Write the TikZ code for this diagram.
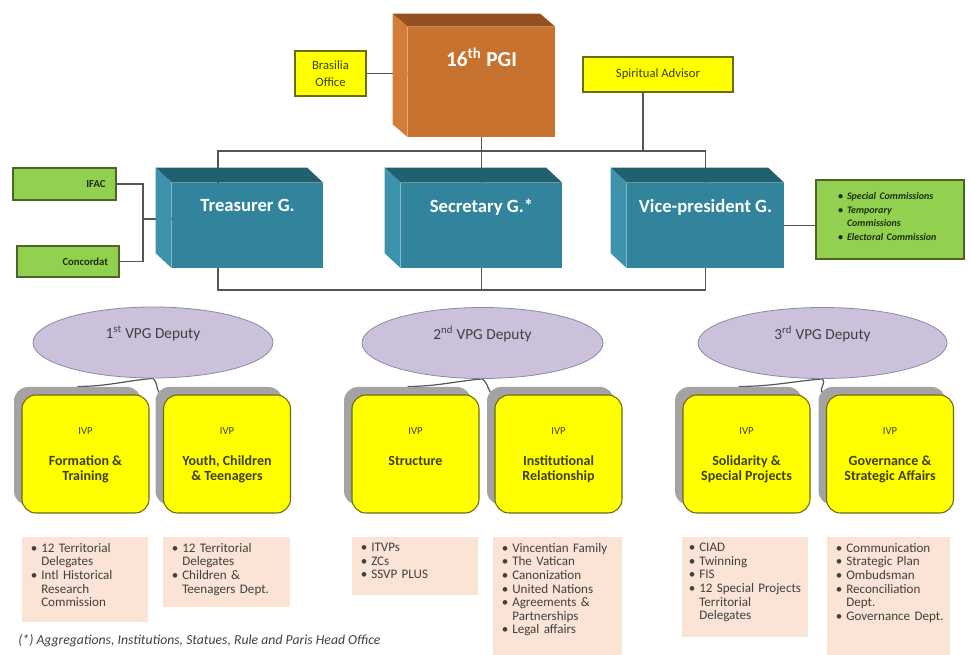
\documentclass[tikz,border=0pt]{standalone}
\usepackage{fontspec}
\setmainfont{Carlito}
\usepackage{enumitem}
\usetikzlibrary{shapes.geometric,shadows,backgrounds}

\newlength\px
\setlength\px{0.75pt}

\definecolor{tealfront}{HTML}{31849B}
\definecolor{tealside}{HTML}{3D93AC}
\definecolor{tealtop}{HTML}{21606F}
\definecolor{pgifront}{HTML}{C8722F}
\definecolor{pgiside}{HTML}{D27C38}
\definecolor{pgitop}{HTML}{95501F}
\definecolor{ivpyellow}{HTML}{FFFF00}
\definecolor{ivpborder}{HTML}{6B6B10}
\definecolor{ivptext}{HTML}{3F3F00}
\definecolor{leafgreen}{HTML}{92D050}
\definecolor{leafborder}{HTML}{4F6228}
\definecolor{leaftext}{HTML}{1E2E0A}
\definecolor{deputyfill}{HTML}{CCC1DA}
\definecolor{deputyborder}{HTML}{8A8AA6}
\definecolor{listpeach}{HTML}{FBE4D5}
\definecolor{shadowgray}{HTML}{A3A3A3}
\definecolor{linkgray}{HTML}{555555}
\definecolor{darktext}{HTML}{404040}

\setlist[itemize]{label=\textbullet, nosep, leftmargin=15\px, labelsep=4\px}
% bullet list kept at the top of a box of fixed height
\newcommand\dutylist[2]{\parbox[t][#1][t]{\linewidth}{\begin{itemize}#2\end{itemize}}}

\begin{document}
\begin{tikzpicture}[x=0.75pt, y=-0.75pt,
    link/.style={draw=linkgray, line width=0.9pt},
    cubefront/.style={fill=tealfront, minimum height=85\px, inner sep=0pt},
    cubetext/.style={anchor=north, yshift=-12pt, inner sep=0pt, text=white, font=\fontsize{14}{16}\selectfont\bfseries},
    office/.style={draw=ivpborder, fill=ivpyellow, line width=0.8pt, text=ivptext, align=center, inner sep=0pt, font=\fontsize{9.5}{12.5}\selectfont},
    leaf/.style={draw=leafborder, fill=leafgreen, line width=0.8pt, text=leaftext, inner sep=0pt, font=\fontsize{8}{9}\selectfont\bfseries},
    deputy/.style={ellipse, draw=deputyborder, fill=deputyfill, line width=0.6pt, minimum height=71\px, inner sep=0pt, text depth=15.5pt,
        text=darktext, font=\fontsize{11.5}{13}\selectfont},
    ivpbox/.style={rounded corners=14\px, draw=ivpborder, fill=ivpyellow, line width=0.8pt, minimum width=127\px, minimum height=118\px,
        general shadow={fill=shadowgray, shadow xshift=-6pt, shadow yshift=6pt}},
    ivptag/.style={anchor=north, yshift=-25pt, inner sep=0pt, text=ivptext, font=\fontsize{8}{10}\selectfont},
    ivptitle/.style={anchor=north, yshift=-46pt, inner sep=0pt, text=ivptext, align=center, font=\fontsize{10.5}{11.3}\selectfont\bfseries},
    duties/.style={anchor=north west, fill=listpeach, inner xsep=4\px, inner ysep=6\px, text=darktext, font=\fontsize{9.8}{10.2}\selectfont}
]
    \useasboundingbox (0,0) rectangle (970,655);

    % top of the chart
    \node[cubefront, fill=pgifront, minimum width=147\px, minimum height=110\px,
        label={[cubetext, yshift=-3.75pt, font=\fontsize{16}{18}\selectfont\bfseries]north:16\textsuperscript{th} PGI}] (pgi) at (481.5,82) {};
    \fill[pgitop] (pgi.north west) -- ++(-15,-13) -- ([shift={(-15,-13)}]pgi.north east) -- (pgi.north east) -- cycle;
    \fill[pgiside] (pgi.north west) -- ++(-15,-13) -- ([shift={(-15,-13)}]pgi.south west) -- (pgi.south west) -- cycle;

    \node[office, minimum width=71\px, minimum height=45\px] (bo) at (330.5,73.5) {Brasilia\\Office};
    \node[office, minimum width=150\px, minimum height=35\px] (sa) at (658,74.5) {Spiritual Advisor};

    % general officers
    \node[cubefront, minimum width=151\px, label={[cubetext]north:Treasurer G.}] (tg) at (247.5,225.5) {};
    \node[cubefront, minimum width=161\px, label={[cubetext]north:Secretary G.*}] (sg) at (481.5,225.5) {};
    \node[cubefront, minimum width=157\px, label={[cubetext]north:Vice-president G.}] (vg) at (705.5,225.5) {};

    \fill[tealtop] (tg.north west) -- ++(-16,-15) -- ([shift={(-16,-15)}]tg.north east) -- (tg.north east) -- cycle;
    \fill[tealside] (tg.north west) -- ++(-16,-15) -- ([shift={(-16,-15)}]tg.south west) -- (tg.south west) -- cycle;
    \fill[tealtop] (sg.north west) -- ++(-16,-15) -- ([shift={(-16,-15)}]sg.north east) -- (sg.north east) -- cycle;
    \fill[tealside] (sg.north west) -- ++(-16,-15) -- ([shift={(-16,-15)}]sg.south west) -- (sg.south west) -- cycle;
    \fill[tealtop] (vg.north west) -- ++(-16,-15) -- ([shift={(-16,-15)}]vg.north east) -- (vg.north east) -- cycle;
    \fill[tealside] (vg.north west) -- ++(-16,-15) -- ([shift={(-16,-15)}]vg.south west) -- (vg.south west) -- cycle;

    \node[leaf, minimum width=103\px, minimum height=32\px, text width=82\px, align=right] (ifac) at (64.5,184) {IFAC};
    \node[leaf, minimum width=102\px, minimum height=31\px, text width=80\px, align=right] (conc) at (68,261.5) {Concordat};
    \node[leaf, text width=116\px, inner xsep=16\px, inner ysep=12.5\px, font=\fontsize{7.5}{10.3}\selectfont\bfseries\itshape] (com) at (890,219.5) {%
        \dutylist{54\px}{
            \item Special Commissions
            \item Temporary\\Commissions
            \item Electoral Commission}};

    % deputies
    \node[deputy, minimum width=240\px] (d1) at (153,342.5) {1\textsuperscript{st} VPG Deputy};
    \node[deputy, minimum width=241\px] (d2) at (482.5,343) {2\textsuperscript{nd} VPG Deputy};
    \node[deputy, minimum width=249\px] (d3) at (822.5,343) {3\textsuperscript{rd} VPG Deputy};

    \node[ivpbox, label={[ivptag]north:IVP}, label={[ivptitle]north:{Formation \&\\Training}}] (iv1) at (85.5,454) {};
    \node[ivpbox, label={[ivptag]north:IVP}, label={[ivptitle]north:{Youth, Children\\\& Teenagers}}] (iv2) at (227,454) {};
    \node[ivpbox, label={[ivptag]north:IVP}, label={[ivptitle]north:{Structure}}] (iv3) at (415.5,454) {};
    \node[ivpbox, label={[ivptag]north:IVP}, label={[ivptitle]north:{Institutional\\Relationship}}] (iv4) at (558.5,454) {};
    \node[ivpbox, label={[ivptag]north:IVP}, label={[ivptitle]north:{Solidarity \&\\Special Projects}}] (iv5) at (746.5,454) {};
    \node[ivpbox, label={[ivptag]north:IVP}, label={[ivptitle]north:{Governance \&\\Strategic Affairs}}] (iv6) at (890,454) {};

    % what each IVP covers
    \node[duties, text width=118\px] (l1) at (22,537) {%
        \dutylist{73\px}{
            \item 12 Territorial\\Delegates
            \item Intl Historical\\Research\\Commission}};
    \node[duties, text width=119\px] (l2) at (163,537) {%
        \dutylist{58\px}{
            \item 12 Territorial\\Delegates
            \item Children \&\\Teenagers Dept.}};
    \node[duties, text width=118\px] (l3) at (352,537) {%
        \dutylist{46\px}{
            \item ITVPs
            \item ZCs
            \item SSVP PLUS}};
    \node[duties, text width=121\px] (l4) at (493,537) {%
        \dutylist{106\px}{
            \item Vincentian Family
            \item The Vatican
            \item Canonization
            \item United Nations
            \item Agreements \&\\Partnerships
            \item Legal affairs}};
    \node[duties, text width=122\px, inner xsep=2\px] (l5) at (682,537) {%
        \dutylist{88\px}{
            \item CIAD
            \item Twinning
            \item FIS
            \item 12 Special Projects\\Territorial\\Delegates}};
    \node[duties, text width=115\px] (l6) at (827,537) {%
        \dutylist{106\px}{
            \item Communication
            \item Strategic Plan
            \item Ombudsman
            \item Reconciliation\\Dept.
            \item Governance Dept.}};

    \node[anchor=west, inner sep=0pt, text=darktext, font=\fontsize{10.3}{12}\selectfont\itshape] (note) at (18,641)
        {(*) Aggregations, Institutions, Statues, Rule and Paris Head Office};

    % connectors
    \begin{scope}[on background layer]
        \coordinate (topbus) at (0,151);
        \coordinate (lowbus) at (0,290);
        \coordinate (treasjoin) at (143,219);

        \draw[link] (bo.east) -- (bo.east -| pgi.west);
        \draw[link] (pgi.south) -- (sg.north);
        \draw[link] ([shift={(-15,0)}]sa.south) -- ++(0,59);
        \draw[link] ([shift={(-29.5,0)}]tg.north) |- (vg.north |- topbus) -- (vg.north);
        \draw[link] ([shift={(-29.5,0)}]tg.south) |- (vg.south |- lowbus) -- (vg.south);
        \draw[link] (sg.south) -- (sg.south |- lowbus);

        \draw[link] (ifac.east) -| (treasjoin) |- (conc.east);
        \draw[link] (treasjoin) -- (treasjoin -| tg.west);
        \draw[link] (vg.east) -- (vg.east -| com.west);

        \draw[link] ([shift={(-8,-8)}]iv1.north) to[out=0,in=185] (d1.south) to[out=-40,in=120] ([shift={(-4,-2)}]iv2.north west);
        \draw[link] ([shift={(-8,-8)}]iv3.north) to[out=0,in=185] (d2.south) to[out=-40,in=120] ([shift={(-4,-2)}]iv4.north west);
        \draw[link] ([shift={(-8,-8)}]iv5.north) to[out=0,in=185] (d3.south) to[out=-40,in=120] ([shift={(-4,-2)}]iv6.north west);
    \end{scope}
\end{tikzpicture}
\end{document}
